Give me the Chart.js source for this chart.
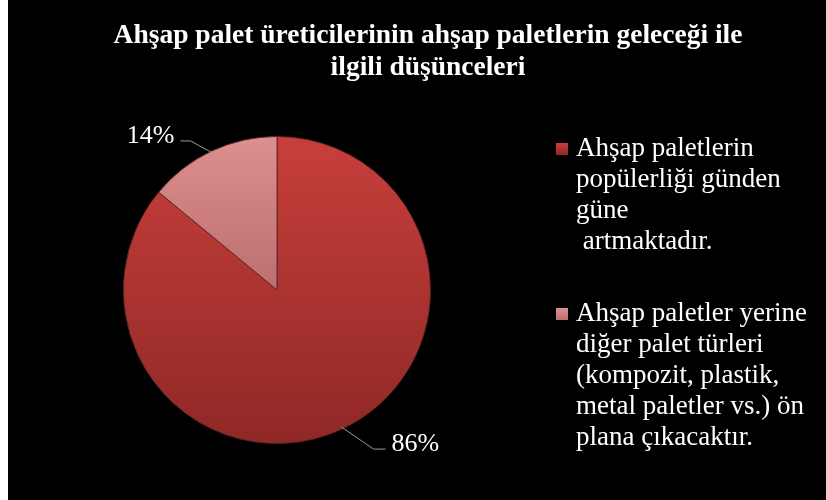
<!DOCTYPE html>
<html>
<head>
<meta charset="utf-8">
<script src="https://cdn.jsdelivr.net/npm/chart.js@4"></script>
<style>
  html, body { margin: 0; padding: 0; background: #fff; }
  #wrap { position: absolute; left: 8px; top: 0; width: 818px; height: 500px; background: #000; }
</style>
</head>
<body>
<div id="wrap"><canvas id="chart" width="818" height="500"></canvas></div>
<script>
// veriler
const titleLines = ['Ahşap palet üreticilerinin ahşap paletlerin geleceği ile', 'ilgili düşünceleri'];
const labels = [
  'Ahşap paletlerin popülerliği günden güne artmaktadır.',
  'Ahşap paletler yerine diğer palet türleri (kompozit, plastik, metal paletler vs.) ön plana çıkacaktır.'
];
const values = [86, 14];
const legendLines = [
  ['Ahşap paletlerin', 'popülerliği günden', 'güne', ' artmaktadır.'],
  ['Ahşap paletler yerine', 'diğer palet türleri', '(kompozit, plastik,', 'metal paletler vs.) ön', 'plana çıkacaktır.']
];
const topColors = ['#c83f3b', '#dd9090'];
const bottomColors = ['#8f2826', '#bd6e6e'];

const serif = '"Liberation Serif", "Times New Roman", serif';

// dilim rengi: yukarıdan aşağı degrade
function sliceFill(c) {
  const area = c.chart.chartArea;
  const i = c.dataIndex;
  if (!area) return topColors[i];
  const g = c.chart.ctx.createLinearGradient(0, area.top, 0, area.bottom);
  g.addColorStop(0, topColors[i]);
  g.addColorStop(i === 1 ? 0.5 : 1, bottomColors[i]);
  g.addColorStop(1, bottomColors[i]);
  return g;
}

// etiketler, başlık ve lejand
const extras = {
  id: 'extras',
  afterDraw(chart) {
    const ctx = chart.ctx;
    const meta = chart.getDatasetMeta(0);
    const total = values.reduce((a, b) => a + b, 0);
    // [dirsek dx, dirsek dy, yatay uzunluk, yazı yönü]
    const leaders = [[32, 22, 12, 1], [-22, -12, -10, -1]];
    ctx.save();
    meta.data.forEach((arc, i) => {
      const p = arc.getProps(['x', 'y', 'startAngle', 'endAngle', 'outerRadius'], true);
      const mid = (p.startAngle + p.endAngle) / 2;
      const ax = p.x + Math.cos(mid) * (p.outerRadius - 2);
      const ay = p.y + Math.sin(mid) * (p.outerRadius - 2);
      const [dx, dy, hl, dir] = leaders[i];
      const ex = ax + dx, ey = ay + dy;
      ctx.strokeStyle = '#9a9a9a';
      ctx.lineWidth = 1;
      ctx.beginPath();
      ctx.moveTo(ax, ay);
      ctx.lineTo(ex, ey);
      ctx.lineTo(ex + hl, ey);
      ctx.stroke();
      ctx.fillStyle = '#fff';
      ctx.font = '26px ' + serif;
      ctx.textBaseline = 'middle';
      ctx.textAlign = dir > 0 ? 'left' : 'right';
      ctx.fillText(Math.round(values[i] / total * 100) + '%', ex + hl + dir * 6, ey - 5);
    });

    // başlık
    ctx.font = 'bold 27.5px ' + serif;
    ctx.textAlign = 'center';
    ctx.textBaseline = 'alphabetic';
    ctx.fillStyle = '#fff';
    titleLines.forEach((t, k) => ctx.fillText(t, 420, 43 + k * 32));

    // lejand
    const starts = [149, 314];
    ctx.font = '27px ' + serif;
    ctx.textAlign = 'left';
    ctx.textBaseline = 'middle';
    legendLines.forEach((lines, i) => {
      const y0 = starts[i];
      const g = ctx.createLinearGradient(0, y0 - 6, 0, y0 + 6);
      g.addColorStop(0, topColors[i]);
      g.addColorStop(1, bottomColors[i]);
      ctx.fillStyle = g;
      ctx.fillRect(548, y0 - 6, 12, 12);
      ctx.fillStyle = '#fff';
      lines.forEach((l, k) => ctx.fillText(l, 568, y0 + k * 31));
    });
    ctx.restore();
  }
};

const ctx = document.getElementById('chart').getContext('2d');
new Chart(ctx, {
  type: 'pie',
  data: {
    labels: labels,
    datasets: [{
      data: values,
      backgroundColor: sliceFill,
      borderColor: 'rgba(90, 35, 35, 0.9)',
      borderWidth: 1,
      hoverOffset: 0
    }]
  },
  options: {
    responsive: false,
    animation: false,
    events: [],
    layout: { padding: { left: 115, top: 136, right: 395, bottom: 56 } },
    plugins: {
      legend: { display: false },
      title: { display: false },
      tooltip: { enabled: false }
    }
  },
  plugins: [extras]
});
</script>
</body>
</html>
